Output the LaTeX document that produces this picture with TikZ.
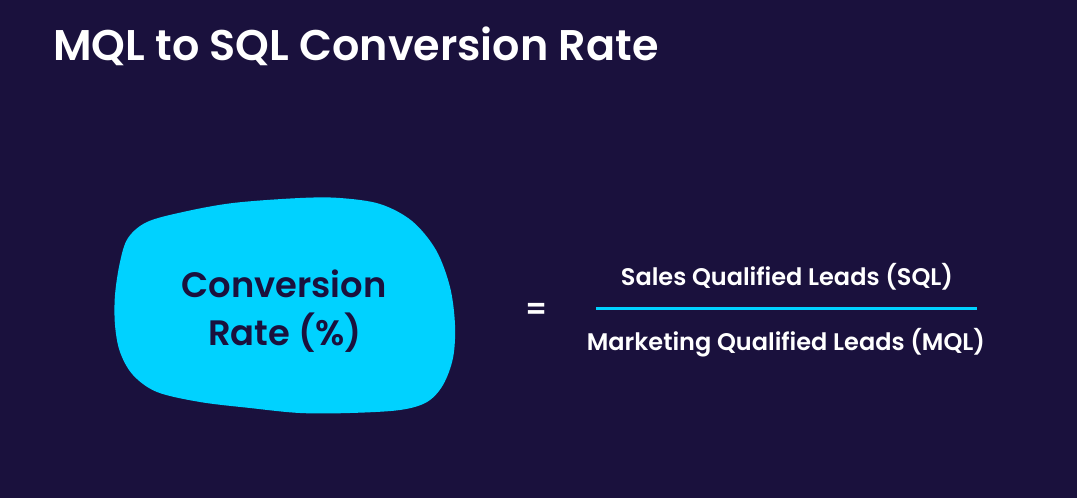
\documentclass[tikz,border=0pt]{standalone}
\usepackage{fontspec}
\setmainfont{Poppins}[BoldFont={Poppins SemiBold}]
\definecolor{bg}{HTML}{1A113D}
\definecolor{cyanb}{HTML}{00D2FF}
\begin{document}
\begin{tikzpicture}[x=1pt,y=-1pt,
  title/.style={anchor=base west,text=white,font=\fontsize{42.9}{50}\selectfont\bfseries,inner sep=0},
  blobtext/.style={text=bg,font=\fontsize{35.3}{48}\selectfont\bfseries,align=center,inner sep=0},
  frac/.style={anchor=base,text=white,font=\fontsize{24}{28}\selectfont\bfseries,inner sep=0}]
\fill[bg] (0,0) rectangle (1077,498);
\useasboundingbox (0,0) rectangle (1077,498);
\node[title] (t) at (53,60) {MQL to SQL Conversion Rate};
\fill[cyanb] plot[smooth cycle,tension=0.55] coordinates {
 (300,198) (340,198) (380,204) (412,221) (436,250) (450,287) (455,325) (453,358)
 (443,385) (427,402) (400,410) (350,413) (300,413) (250,408) (200,402) (157,392)
 (133,375) (120,352) (115,325) (115,295) (120,262) (128,238) (147,222) (183,212)
 (233,203)};
\node[blobtext,anchor=base] (c1) at (284,297) {Conversion};
\node[blobtext,anchor=base] (c2) at (285,345) {Rate (\%)};
\node[text=white,font=\fontsize{30}{30}\selectfont\bfseries,inner sep=0] (eq) at (537,311) {=};
\node[frac] (num) at (787,285) {Sales Qualified Leads (SQL)};
\node[frac] (den) at (786,350) {Marketing Qualified Leads (MQL)};
\coordinate (l1) at (596,308);
\coordinate (l2) at (977,308);
\draw[cyanb,line width=3] (l1) -- (l2);
\end{tikzpicture}
\end{document}
